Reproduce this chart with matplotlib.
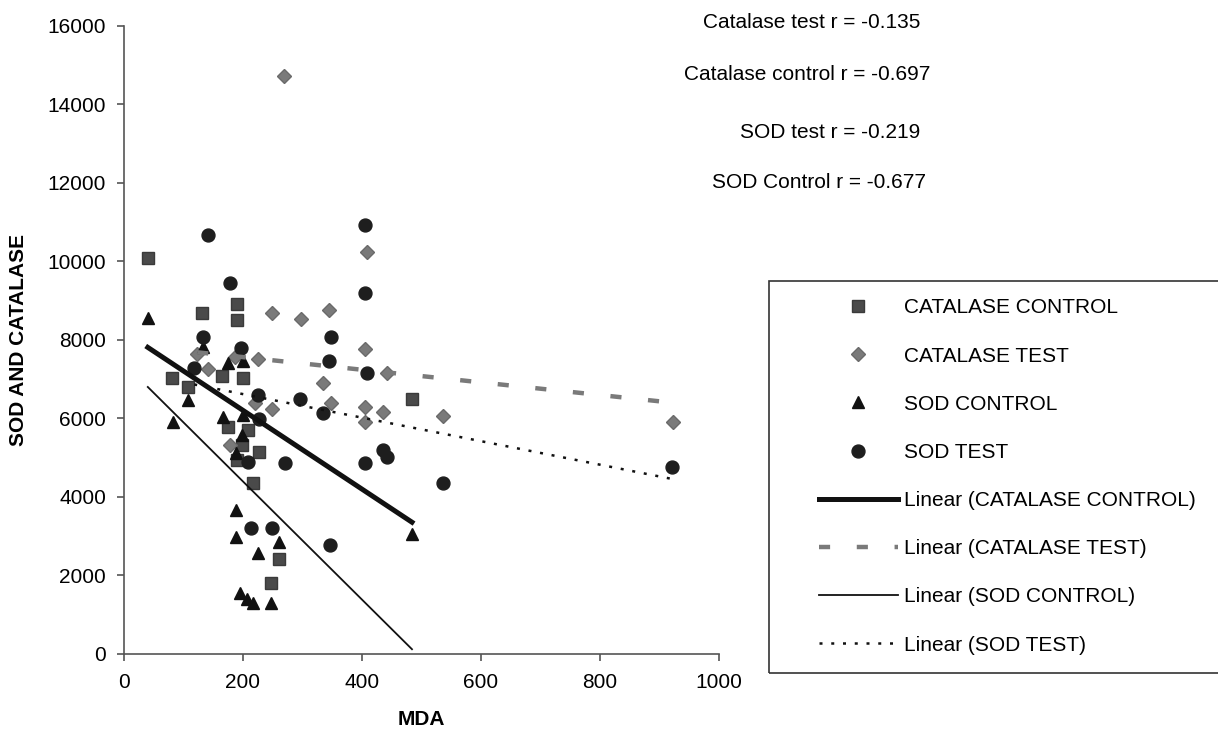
import numpy as np
import matplotlib
matplotlib.use("Agg")
import matplotlib.pyplot as plt
from matplotlib.patches import Rectangle

plt.rcParams['font.family'] = ['Liberation Sans', 'DejaVu Sans']

# valores (MDA x SOD/CATALASE)
cat_control_x = [40, 131, 190, 190, 81, 165, 200, 108, 175, 208, 198, 190, 227, 217, 260, 247, 484]
cat_control_y = [10085, 8683, 8900, 8500, 7025, 7076, 7025, 6796, 5776, 5700, 5317, 4930, 5150, 4348, 2410, 1798, 6490]

cat_test_x = [269, 249, 297, 345, 408, 405, 442, 334, 348, 405, 405, 435, 536, 923, 123, 187, 225, 141, 220, 249, 178]
cat_test_y = [14730, 8683, 8530, 8760, 10236, 7764, 7152, 6898, 6388, 6286, 5904, 6158, 6056, 5904, 7637, 7560, 7509, 7254, 6388, 6235, 5317]

sod_control_x = [40, 133, 175, 200, 108, 82, 166, 200, 198, 188, 188, 188, 260, 225, 195, 207, 217, 247, 484]
sod_control_y = [8555, 7816, 7408, 7459, 6464, 5903, 6031, 6082, 5572, 5113, 3659, 2971, 2844, 2563, 1543, 1390, 1288, 1288, 3047]

sod_test_x = [141, 178, 133, 197, 118, 225, 296, 227, 208, 271, 213, 249, 405, 405, 348, 345, 408, 334, 435, 442, 405, 536, 921, 346]
sod_test_y = [10672, 9448, 8070, 7790, 7280, 6592, 6490, 5980, 4883, 4858, 3200, 3200, 10926, 9193, 8070, 7458, 7152, 6133, 5189, 5010, 4858, 4348, 4756, 2767]

# linhas de tendencia (intercepto, inclinacao)
trend_intercept = [8207, 7879, 7398, 7214]
trend_slope = [-10.04, -1.61, -15.06, -3.0]

series_names = ['CATALASE CONTROL', 'CATALASE TEST', 'SOD CONTROL', 'SOD TEST']
r_labels = ['Catalase test r = -0.135', 'Catalase control r = -0.697',
            'SOD test r = -0.219', 'SOD Control r = -0.677']

W, H = 1218, 736
fig = plt.figure(figsize=(W / 100, H / 100), dpi=100)
ax = fig.add_axes([124 / W, 1 - 653.5 / H, 595 / W, 627.5 / H])

# pontos
ax.plot(cat_control_x, cat_control_y, 's', color='#4a4a4a', ms=8.2, mec='#3a3a3a', label=series_names[0], zorder=3)
ax.plot(cat_test_x, cat_test_y, 'D', color='#7a7a7a', ms=6.8, mec='#6a6a6a', label=series_names[1], zorder=3)
ax.plot(sod_control_x, sod_control_y, '^', color='#111111', ms=9, label=series_names[2], zorder=3)
ax.plot(sod_test_x, sod_test_y, 'o', color='#1e1e1e', ms=9.3, label=series_names[3], zorder=3)

# tendencias
all_x = [cat_control_x, cat_test_x, sod_control_x, sod_test_x]
styles = [
    dict(color='#111111', lw=3.6, ls='-'),
    dict(color='#7a7a7a', lw=3.2, ls=(0, (2.5, 6))),
    dict(color='#111111', lw=1.3, ls='-'),
    dict(color='#111111', lw=1.8, ls=(0, (1.2, 3.5))),
]
for i in range(4):
    xs = np.array([min(all_x[i]), max(all_x[i])])
    ys = trend_intercept[i] + trend_slope[i] * xs
    ax.plot(xs, ys, label='Linear (' + series_names[i] + ')', zorder=4, **styles[i])

ax.set_xlim(0, 1000)
ax.set_ylim(0, 16000)
ax.set_xticks(range(0, 1001, 200))
ax.set_yticks(range(0, 16001, 2000))
for s in ['top', 'right']:
    ax.spines[s].set_visible(False)
for s in ['left', 'bottom']:
    ax.spines[s].set_color('#555555')
    ax.spines[s].set_linewidth(1.2)
ax.tick_params(axis='both', labelsize=15, length=5, color='#555555', width=1.2)
ax.tick_params(axis='x', pad=9)
ax.tick_params(axis='y', pad=8)

ax.set_xlabel('MDA', fontsize=15, fontweight='bold')
ax.xaxis.set_label_coords(0.5, -0.09)
ax.set_ylabel('SOD AND CATALASE', fontsize=15, fontweight='bold')
ax.yaxis.set_label_coords(-0.161, 0.5)

# textos com r
r_pos = [(920, 23), (930, 75), (920, 132), (926, 183)]
for txt, (px, py) in zip(r_labels, r_pos):
    fig.text(px / W, 1 - py / H, txt, fontsize=15, ha='right', va='center')

# legenda com caixa desenhada a parte
leg = ax.legend(loc='upper left', bbox_to_anchor=(809 / W, 1 - 288 / H),
                bbox_transform=fig.transFigure, frameon=False, fontsize=15,
                numpoints=1, handlelength=3.75, handletextpad=0.3,
                labelspacing=1.40, borderpad=0, markerscale=1.0)
fig.patches.append(Rectangle((769 / W, 1 - 673 / H), 460 / W, 392 / H,
                             transform=fig.transFigure, fill=False,
                             edgecolor='#333333', lw=1.2))

fig.savefig('out.png', dpi=100)
